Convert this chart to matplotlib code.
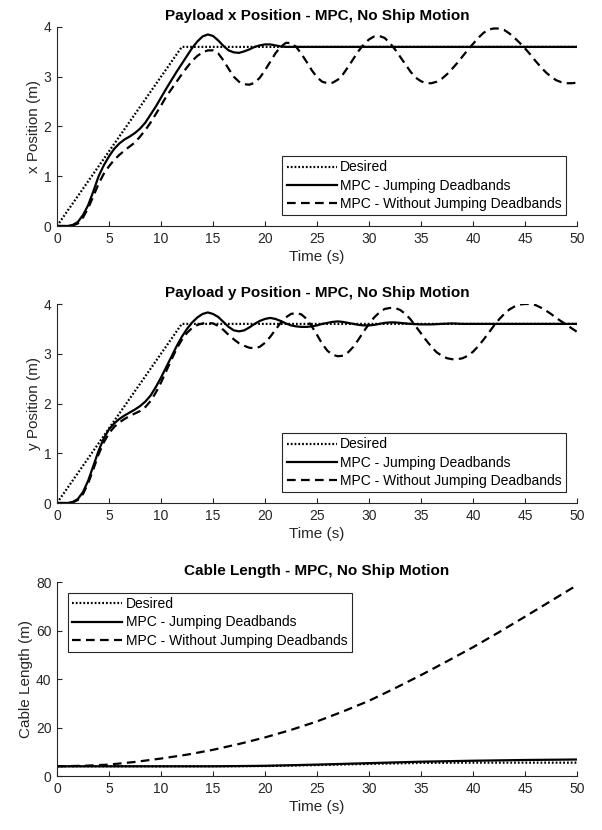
import matplotlib
matplotlib.use('Agg')
import matplotlib.pyplot as plt

plt.rcParams['font.family'] = ['Liberation Sans', 'DejaVu Sans']

# Desired trajectory (ramp then hold)
t_des = [0, 12, 50]
pos_des = [0, 3.6, 3.6]

# Payload x position
t_x = [0, 1, 1.5, 2, 2.5, 3, 3.5, 4, 4.5, 5, 5.5, 6, 6.5, 7, 7.5, 8, 8.5, 9, 9.5, 10,
       10.5, 11, 11.5, 12, 12.5, 13, 13.5, 14, 14.5, 15, 15.5, 16, 16.5, 17, 17.5, 18,
       18.5, 19, 19.5, 20, 20.5, 21, 21.5, 22, 23, 50]
x_jump = [0, 0, 0.02, 0.08, 0.22, 0.42, 0.7, 1.0, 1.22, 1.4, 1.55, 1.66, 1.74, 1.8, 1.87,
          1.96, 2.08, 2.24, 2.4, 2.58, 2.76, 2.93, 3.1, 3.26, 3.42, 3.58, 3.71, 3.81, 3.85,
          3.82, 3.73, 3.62, 3.53, 3.49, 3.48, 3.51, 3.55, 3.6, 3.63, 3.65, 3.65, 3.63, 3.61,
          3.6, 3.6, 3.6]

t_x2 = [0, 1, 1.5, 2, 2.5, 3, 3.5, 4, 4.5, 5, 5.5, 6, 6.5, 7, 7.5, 8, 8.5, 9, 9.5, 10,
        10.5, 11, 11.5, 12, 12.5, 13, 13.5, 14, 14.5, 15, 15.5, 16, 16.5, 17, 17.5, 18,
        18.5, 19, 19.5, 20, 20.5, 21, 21.5, 22, 22.5, 23, 23.5, 24, 24.5, 25, 25.5, 26,
        26.5, 27, 27.5, 28, 28.5, 29, 29.5, 30, 30.5, 31, 31.5, 32, 32.5, 33, 33.5, 34,
        34.5, 35, 35.5, 36, 36.5, 37, 37.5, 38, 38.5, 39, 39.5, 40, 40.5, 41, 41.5, 42,
        42.5, 43, 43.5, 44, 44.5, 45, 45.5, 46, 46.5, 47, 47.5, 48, 48.5, 49, 49.5, 50]
x_nojump = [0, 0, 0.01, 0.05, 0.17, 0.36, 0.6, 0.85, 1.05, 1.2, 1.33, 1.43, 1.52, 1.6, 1.68,
            1.8, 1.93, 2.08, 2.25, 2.42, 2.6, 2.75, 2.9, 3.05, 3.19, 3.32, 3.42, 3.49, 3.53,
            3.53, 3.47, 3.33, 3.16, 3.0, 2.9, 2.85, 2.84, 2.88, 2.98, 3.13, 3.3, 3.47, 3.6,
            3.68, 3.68, 3.6, 3.46, 3.3, 3.13, 2.99, 2.9, 2.87, 2.88, 2.94, 3.05, 3.2, 3.36,
            3.52, 3.65, 3.75, 3.81, 3.82, 3.78, 3.68, 3.55, 3.4, 3.25, 3.1, 2.98, 2.91, 2.87,
            2.87, 2.9, 2.96, 3.05, 3.16, 3.28, 3.41, 3.54, 3.66, 3.78, 3.88, 3.95, 3.97, 3.97,
            3.94, 3.87, 3.78, 3.68, 3.57, 3.45, 3.32, 3.2, 3.09, 3.0, 2.93, 2.89, 2.87, 2.87,
            2.88]

# Payload y position
t_y = [0, 1, 1.5, 2, 2.5, 3, 3.5, 4, 4.5, 5, 5.5, 6, 6.5, 7, 7.5, 8, 8.5, 9, 9.5, 10,
       10.5, 11, 11.5, 12, 12.5, 13, 13.5, 14, 14.5, 15, 15.5, 16, 16.5, 17, 17.5, 18,
       18.5, 19, 19.5, 20, 20.5, 21, 21.5, 22, 22.5, 23, 23.5, 24, 24.5, 25, 25.5, 26,
       26.5, 27, 27.5, 28, 28.5, 29, 29.5, 30, 30.5, 31, 31.5, 32, 32.5, 33, 33.5, 34,
       35, 36, 37, 38, 39, 40, 50]
y_jump = [0, 0, 0.02, 0.08, 0.22, 0.45, 0.75, 1.05, 1.3, 1.48, 1.6, 1.69, 1.76, 1.82, 1.88,
          1.95, 2.04, 2.16, 2.33, 2.52, 2.73, 2.94, 3.15, 3.34, 3.5, 3.63, 3.73, 3.8, 3.83,
          3.8, 3.74, 3.64, 3.54, 3.47, 3.45, 3.47, 3.53, 3.6, 3.66, 3.7, 3.72, 3.7, 3.66,
          3.61, 3.57, 3.55, 3.54, 3.54, 3.55, 3.57, 3.6, 3.62, 3.64, 3.65, 3.64, 3.62, 3.6,
          3.58, 3.57, 3.57, 3.58, 3.6, 3.62, 3.63, 3.63, 3.62, 3.61, 3.6, 3.59, 3.59, 3.6,
          3.61, 3.6, 3.6, 3.6]

t_y2 = t_x2
y_nojump = [0, 0, 0.01, 0.06, 0.18, 0.4, 0.68, 0.98, 1.22, 1.4, 1.53, 1.62, 1.69, 1.75, 1.8,
            1.85, 1.93, 2.05, 2.22, 2.42, 2.65, 2.88, 3.1, 3.28, 3.42, 3.52, 3.58, 3.61, 3.62,
            3.61, 3.56, 3.48, 3.38, 3.29, 3.21, 3.16, 3.12, 3.11, 3.14, 3.22, 3.34, 3.48,
            3.62, 3.73, 3.8, 3.82, 3.79, 3.7, 3.55, 3.38, 3.2, 3.06, 2.98, 2.95, 2.96, 3.03,
            3.14, 3.29, 3.45, 3.6, 3.73, 3.83, 3.9, 3.92, 3.92, 3.88, 3.8, 3.69, 3.55, 3.41,
            3.27, 3.14, 3.03, 2.96, 2.91, 2.89, 2.89, 2.91, 2.96, 3.04, 3.15, 3.28, 3.42, 3.56,
            3.69, 3.8, 3.89, 3.95, 3.99, 4.0, 4.0, 3.98, 3.93, 3.87, 3.8, 3.72, 3.65, 3.58,
            3.51, 3.44]

# Cable length
t_L = [0, 5, 10, 15, 20, 25, 30, 35, 40, 45, 50]
L_des = [4, 4, 4, 4, 4.1, 4.5, 5.0, 5.4, 5.5, 5.5, 5.5]
L_jump = [4, 4, 4, 4, 4.2, 4.7, 5.3, 5.9, 6.3, 6.6, 6.8]
t_L2 = [0, 2.5, 5, 7.5, 10, 12.5, 15, 17.5, 20, 22.5, 25, 27.5, 30, 32.5, 35, 37.5, 40,
        42.5, 45, 47.5, 50]
L_nojump = [4, 4.2, 4.7, 5.8, 7.2, 8.8, 10.8, 13.2, 15.9, 19.0, 22.5, 26.6, 31.0, 36.2,
            41.6, 47.3, 53.1, 59.3, 65.7, 72.2, 78.7]

labels = ['Desired', 'MPC - Jumping Deadbands', 'MPC - Without Jumping Deadbands']
gray = '#262626'

fig = plt.figure(figsize=(6.02, 8.30), dpi=100)
ax1 = fig.add_axes([57 / 602, 1 - 226 / 830, 520 / 602, 199 / 830])
ax2 = fig.add_axes([57 / 602, 1 - 503 / 830, 520 / 602, 199 / 830])
ax3 = fig.add_axes([57 / 602, 1 - 776 / 830, 520 / 602, 194 / 830])

panels = [
    (ax1, (t_des, pos_des), (t_x, x_jump), (t_x2, x_nojump),
     'Payload x Position - MPC, No Ship Motion', 'x Position (m)', (0, 4), range(0, 5), 'lower right'),
    (ax2, (t_des, pos_des), (t_y, y_jump), (t_y2, y_nojump),
     'Payload y Position - MPC, No Ship Motion', 'y Position (m)', (0, 4), range(0, 5), 'lower right'),
    (ax3, (t_L, L_des), (t_L, L_jump), (t_L2, L_nojump),
     'Cable Length - MPC, No Ship Motion', 'Cable Length (m)', (0, 80), range(0, 81, 20), 'upper left'),
]

for ax, des, jump, nojump, title, ylab, ylim, yticks, loc in panels:
    ax.plot(des[0], des[1], color='black', lw=1.6, linestyle=(0, (0.8, 0.9)), label=labels[0])
    ax.plot(jump[0], jump[1], color='black', lw=1.6, label=labels[1])
    ax.plot(nojump[0], nojump[1], color='black', lw=1.6, linestyle=(0, (3.9, 2.4)), label=labels[2])

    ax.set_xlim(0, 50)
    ax.set_ylim(*ylim)
    ax.set_xticks(range(0, 51, 5))
    ax.set_yticks(list(yticks))
    ax.spines['top'].set_visible(False)
    ax.spines['right'].set_visible(False)
    for s in ['left', 'bottom']:
        ax.spines[s].set_color(gray)
        ax.spines[s].set_linewidth(0.8)
    ax.tick_params(direction='in', length=3.5, width=0.8, colors=gray, labelsize=10, pad=4)
    ax.set_title(title, fontsize=11, fontweight='bold', pad=5)
    ax.set_xlabel('Time (s)', fontsize=11, color=gray, labelpad=3)
    ax.set_ylabel(ylab, fontsize=11, color=gray, labelpad=2)

    leg = ax.legend(loc=loc, fontsize=10, frameon=True, fancybox=False, edgecolor=gray,
                    framealpha=1, handlelength=3.6, handletextpad=0.25, borderpad=0.3,
                    labelspacing=0.3, borderaxespad=0.8)
    leg.get_frame().set_linewidth(0.8)

fig.savefig('out.png', dpi=100)
